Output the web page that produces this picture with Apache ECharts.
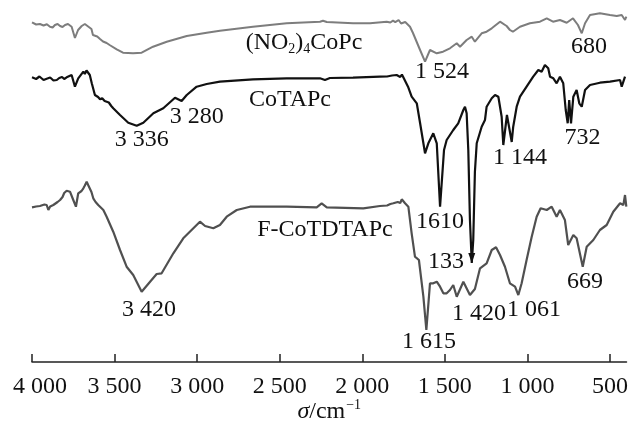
<!DOCTYPE html>
<html>
<head>
<meta charset="utf-8">
<script src="https://cdn.jsdelivr.net/npm/echarts@6/dist/echarts.min.js"></script>
<style>
  html, body { margin: 0; padding: 0; background: #fff; }
  #chart { width: 635px; height: 423px; }
</style>
</head>
<body>
<div id="chart"></div>
<script>
// 波数 (cm-1) 与透过率 (任意单位)；绘制前按波数排序
const waveNO2 = [4000, 3952, 3891, 3861, 3830, 3782, 3760, 3740, 3721, 3699, 3669, 3649, 3631, 3588, 3548, 3487, 3449, 3388, 3336, 3267, 3184, 3063, 2942, 2862, 2662, 2458, 2256, 2238, 2215, 2056, 1953, 1852, 1814, 1753, 1711, 1693, 1650, 1620, 1590, 1549, 1511, 1469, 1428, 1408, 1368, 1337, 1318, 1277, 1247, 1216, 1166, 1126, 1106, 1088, 1045, 985, 924, 883, 845, 803, 762, 724, 694, 671, 651, 621, 561, 500, 459, 429, 409, 401,
  3975, 3930, 3910, 3875, 3845, 3815, 3800, 3690, 3680, 3660, 3640, 3620, 3605, 3570, 3560, 3530, 1830, 1800, 1780, 1765, 1740]
const transNO2 = [339.7, 338, 335.3, 337, 336, 338, 335.3, 324, 332, 336, 338.7, 335.3, 327, 323, 319, 312.7, 309.3, 308.7, 309.3, 315.3, 320.3, 326, 329.3, 331.3, 335.3, 338.7, 340.3, 341.3, 340, 338.7, 338.7, 340.3, 341.3, 339.3, 335.3, 329, 312, 300.3, 312, 308.7, 310.3, 313.7, 318.7, 315.3, 322, 325.3, 320.3, 328.7, 330.3, 333.7, 340.3, 336, 332, 330.3, 335.3, 338.7, 340.3, 343.7, 340.3, 342, 339.3, 343.7, 337, 328.7, 338.7, 347, 348.7, 347, 346, 347, 342, 345.3,
  337.5, 336.5, 337.8, 334.5, 338, 335, 337, 334, 338, 335.5, 333, 326, 325.5, 320.5, 322, 317, 339.5, 339.8, 342, 338.5, 340]

const waveCoTAPc = [4000, 3911, 3850, 3818, 3790, 3760, 3740, 3720, 3689, 3659, 3638, 3619, 3588, 3548, 3508, 3467, 3417, 3366, 3326, 3265, 3205, 3134, 3094, 3063, 3003, 2942, 2862, 2662, 2458, 2256, 2226, 2196, 2056, 1893, 1792, 1753, 1723, 1701, 1670, 1650, 1620, 1600, 1570, 1549, 1529, 1505, 1489, 1449, 1419, 1388, 1378, 1368, 1358, 1348, 1337, 1328, 1318, 1307, 1277, 1257, 1247, 1216, 1196, 1176, 1156, 1146, 1124, 1095, 1086, 1065, 1045, 1005, 965, 934, 914, 894, 874, 863, 843, 823, 803, 783, 768, 756, 747, 736, 722, 702, 686, 671, 651, 621, 561, 500, 439, 429, 409,
  3975, 3955, 3930, 3890, 3870, 3835, 3805, 3680, 3670, 3650, 3600, 3575, 3560, 3535, 3520, 1850, 1820, 1770, 1760]
const transCoTAPc = [284.7, 283.3, 282, 285, 284.7, 287, 275.3, 283.7, 290.3, 290.3, 278.7, 267, 262.7, 260.3, 253.7, 247, 239.3, 236.3, 239.3, 248.7, 253.7, 264.3, 261, 267, 275.3, 278, 280.3, 282.7, 283.7, 283.7, 282, 284, 284.3, 285.3, 287, 285.3, 275.3, 265.3, 258.7, 239, 208.7, 218.7, 228.7, 218.7, 155.3, 212, 222, 232, 238.7, 252, 255.3, 248.7, 212, 142, 99, 122, 190, 218.7, 235.3, 242, 255.3, 263.7, 267, 265.3, 245.3, 217, 247, 220, 235.3, 255.3, 265.3, 275.3, 285.3, 292, 290.3, 297, 293.7, 285.3, 283.7, 278.7, 285.3, 278.7, 252, 238.7, 262, 238.7, 265.3, 272, 258.7, 255.3, 272, 277, 279.3, 280.3, 282, 275.3, 285.3,
  283, 285.5, 282, 284.5, 281.5, 284, 283, 288, 291.5, 287, 265, 263.8, 261, 259.5, 256, 285.5, 286.5, 285, 287.5]

const waveFCo = [4000, 3952, 3911, 3901, 3871, 3830, 3790, 3770, 3750, 3734, 3720, 3689, 3669, 3649, 3629, 3599, 3568, 3548, 3508, 3467, 3427, 3387, 3336, 3285, 3245, 3215, 3144, 3084, 2983, 2952, 2902, 2862, 2821, 2760, 2680, 2458, 2276, 2246, 2215, 1994, 1893, 1812, 1761, 1741, 1721, 1701, 1681, 1657, 1630, 1612, 1590, 1570, 1549, 1529, 1509, 1489, 1469, 1449, 1428, 1419, 1388, 1378, 1348, 1318, 1287, 1247, 1216, 1190, 1166, 1136, 1106, 1075, 1055, 1035, 1005, 974, 944, 920, 883, 853, 823, 803, 773, 753, 722, 702, 665, 641, 601, 561, 520, 480, 439, 419, 409, 401,
  3975, 3940, 3925, 3890, 3860, 3845, 3815, 3805, 3700, 3680, 3660, 3640, 3615, 1850, 1830, 1800, 1785, 1770, 1750]
const transFCo = [154.7, 156, 157, 152, 157, 162, 171.3, 170.3, 162, 155.3, 168.7, 173.7, 180.3, 175.3, 163.7, 157, 152, 145.3, 130.3, 112, 95.3, 87, 70.3, 80.3, 88, 88.7, 108.7, 123.7, 140.3, 136, 133.7, 137, 145.3, 152, 155.3, 155.3, 154.7, 158.7, 154.7, 153.7, 156, 158.7, 162.7, 158.7, 155.3, 128.7, 105.3, 102, 65.3, 32, 78.7, 78.7, 80.3, 75.3, 68.7, 68.7, 72, 77, 65.3, 65.3, 80.3, 80.3, 67, 73, 93.7, 98.7, 112, 114.7, 107, 95.3, 78.7, 75.3, 67, 78.7, 102, 125.3, 145.3, 153.7, 152, 155.3, 145.3, 152, 142, 117, 127, 123.7, 95.3, 115.3, 122, 132, 137, 150.3, 158.7, 157, 167, 155.3,
  155.5, 154, 157.5, 155.5, 158, 160, 165, 169, 171, 176.5, 177, 170, 160, 156.5, 158, 157.5, 160, 159, 161.5]

// X轴刻度
const tickValues = [4000, 3500, 3000, 2500, 2000, 1500, 1000, 500]

// 峰位标注：文字、波数、纵坐标
const annoText = ['{n|(NO}{s|2}{n|)}{s|4}{n|CoPc}', '1 524', '680', 'CoTAPc', '3 336', '3 280', '1610', '1 144', '732', 'F-CoTDTAPc', '133', '1 420', '1 061', '669', '1 615', '3 420']
const annoWave = [2353, 1517, 627, 2438, 3336, 3003, 1529, 1045, 667, 2226, 1493, 1293, 960, 651, 1596, 3291]
const annoTrans = [319, 290, 315, 262, 222, 245.5, 140, 204.5, 224.5, 132, 100.5, 48, 52, 80.5, 20.5, 52.5]

const FONT = '"Liberation Serif", "Times New Roman", serif'

const zip = (xs, ys) => xs.map((x, i) => [x, ys[i]]).sort((a, b) => b[0] - a[0])

const lineSeries = (name, xs, ys, color, width) => ({
  name,
  type: 'line',
  data: zip(xs, ys),
  symbol: 'none',
  smooth: false,
  lineStyle: { color, width },
  z: 2
})

// 千位用空格分隔，4 000 稍向右移
const fmtTick = v => {
  const s = v >= 1000 ? Math.floor(v / 1000) + ' ' + String(v % 1000).padStart(3, '0') : String(v)
  return v === 4000 ? '{f|' + s + '}' : s
}

const chart = echarts.init(document.getElementById('chart'))

const series = [
  lineSeries('(NO2)4CoPc', waveNO2, transNO2, '#7d7d7d', 2),
  lineSeries('CoTAPc', waveCoTAPc, transCoTAPc, '#111111', 2.2),
  lineSeries('F-CoTDTAPc', waveFCo, transFCo, '#505050', 2.2)
]
// 1333 处的小箭头
series[1].markPoint = {
  symbol: 'triangle',
  symbolSize: [7, 10],
  symbolRotate: 180,
  silent: true,
  label: { show: false },
  itemStyle: { color: '#111' },
  data: [{ coord: [1337, 104] }]
}

chart.setOption({
  animation: false,
  backgroundColor: '#fff',
  grid: { left: 32, right: 8.5, top: 0, bottom: 61, outerBoundsMode: 'none', containLabel: false },
  xAxis: {
    type: 'value',
    inverse: true,
    min: 400,
    max: 4000,
    axisLine: { lineStyle: { color: '#222', width: 1.5 } },
    axisTick: {
      inside: true,
      length: 8,
      customValues: tickValues,
      lineStyle: { color: '#222', width: 1.5 }
    },
    axisLabel: {
      customValues: tickValues,
      margin: 13,
      color: '#111',
      fontFamily: FONT,
      fontSize: 24,
      formatter: fmtTick,
      rich: {
        f: { fontFamily: FONT, fontSize: 24, color: '#111', padding: [0, 0, 0, 16] }
      }
    },
    splitLine: { show: false },
    name: '{i|σ}{n|/cm}{s|−1}',
    nameLocation: 'middle',
    nameGap: 36,
    nameMoveOverlap: false,
    nameTextStyle: {
      rich: {
        i: { fontFamily: FONT, fontSize: 24, fontStyle: 'italic', color: '#111' },
        n: { fontFamily: FONT, fontSize: 24, color: '#111' },
        s: { fontFamily: FONT, fontSize: 14, color: '#111', padding: [0, 0, 14, 1] }
      }
    }
  },
  yAxis: {
    type: 'value',
    min: 0,
    max: 362,
    show: false
  },
  series
})

// 标注文字位置由数据坐标换算
const graphic = annoText.map((t, i) => {
  const [px, py] = chart.convertToPixel({ gridIndex: 0 }, [annoWave[i], annoTrans[i]])
  return {
    type: 'text',
    x: px,
    y: py,
    z: 10,
    style: {
      text: t,
      align: 'center',
      verticalAlign: 'middle',
      fill: '#111',
      fontFamily: FONT,
      fontSize: 24,
      rich: {
        n: { fontFamily: FONT, fontSize: 24, fill: '#111' },
        s: { fontFamily: FONT, fontSize: 14, fill: '#111', padding: [12, 0, 0, 0] }
      }
    }
  }
})
chart.setOption({ graphic })
</script>
</body>
</html>
